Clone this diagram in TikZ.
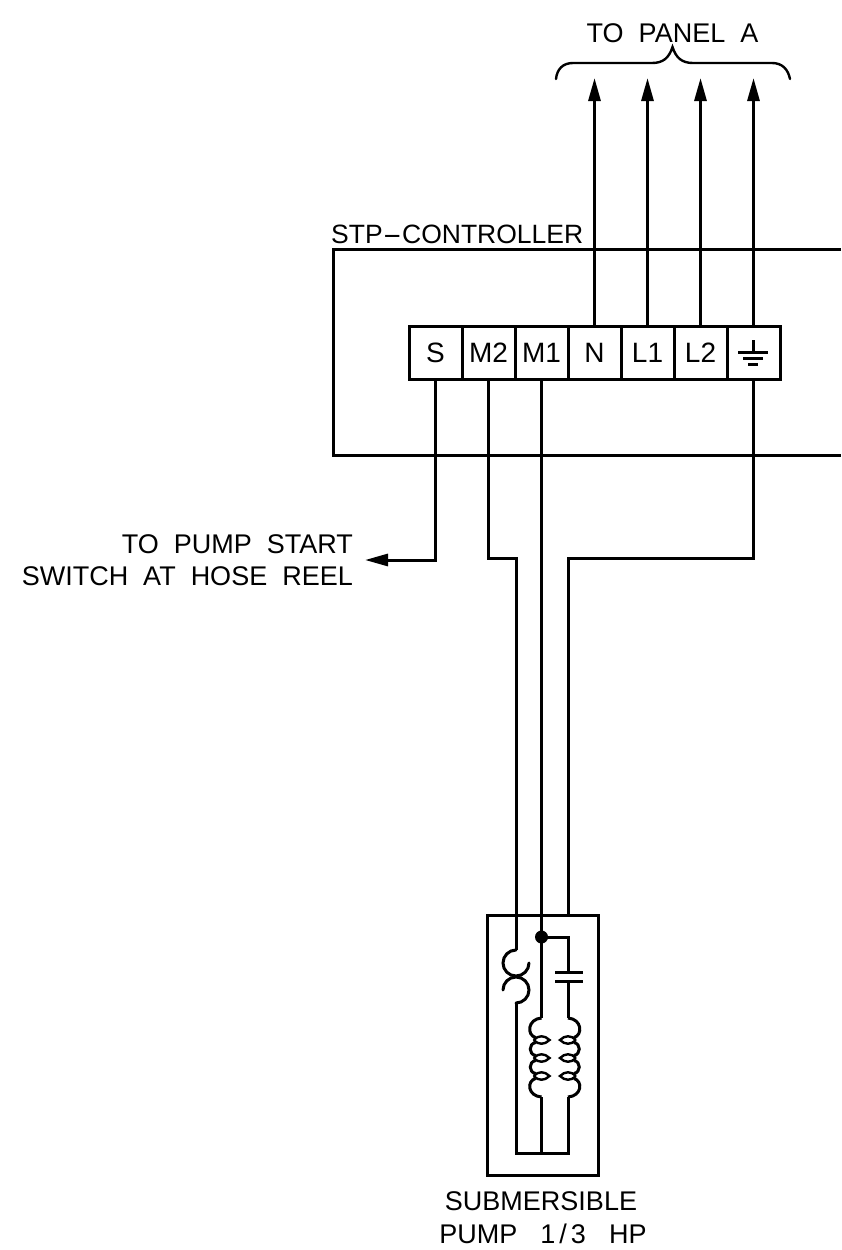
\documentclass[tikz,border=0pt]{standalone}
\usepackage{graphicx}
\usepackage{fontspec}
\setmainfont[WordSpace=2]{Liberation Sans}
\usetikzlibrary{arrows.meta}
\tikzset{
  wire/.style={line width=3pt,black,line join=miter},
  tip/.style={wire,-{Triangle[length=23pt,width=12pt]}},
  term/.style={draw,line width=3pt,minimum width=53pt,minimum height=53pt,inner sep=0pt,font=\fontsize{28}{30}\selectfont},
  lbl/.style={inner sep=0pt,font=\fontsize{27}{30}\selectfont}
}
\begin{document}
\begin{tikzpicture}[x=1pt,y=-1pt]
\useasboundingbox[fill=white] (0,0) rectangle (841,1250);
% controller box
\draw[wire] (841,249) -- (333,249) -- (333,455) -- (841,455);
\node[lbl,anchor=base west,font=\fontsize{26.5}{30}\selectfont] (ctl) at (331,243) {STP\scalebox{2.2}[1]{-}CONTROLLER};
% terminals
\node[term,fill=white] (tS) at (435.5,352.5) {S};
\node[term,fill=white] (tM2) at (488.5,352.5) {M2};
\node[term,fill=white] (tM1) at (541.5,352.5) {M1};
\node[term,fill=white] (tN) at (594.5,352.5) {N};
\node[term,fill=white] (tL1) at (647.5,352.5) {L1};
\node[term,fill=white] (tL2) at (700.5,352.5) {L2};
\node[term,fill=white] (tG) at (753.5,352.5) {};
\draw[wire] (753.5,340) -- (753.5,352);
\draw[wire] (738,352) -- (768,352);
\draw[wire] (743,358) -- (763,358);
\draw[wire] (748,364) -- (758,364);
% arrows to panel
\coordinate (pN) at (594.5,78);
\coordinate (pL1) at (647.5,78);
\coordinate (pL2) at (700.5,78);
\coordinate (pG) at (753.5,78);
\draw[tip] (tN.north) -- (pN);
\draw[tip] (tL1.north) -- (pL1);
\draw[tip] (tL2.north) -- (pL2);
\draw[tip] (tG.north) -- (pG);
% brace
\draw[line width=2.4pt,line cap=round] (556,79) .. controls (557,69) and (563,63) .. (573,63) -- (652,63) .. controls (663,63) and (669,58) .. (672.5,47) .. controls (676,58) and (682,63) .. (693,63) -- (772,63) .. controls (782,63) and (788,69) .. (790,79);
\node[lbl,anchor=base] (panel) at (672.5,42) {TO PANEL A};
% pump box
\node[draw,line width=3pt,minimum width=111pt,minimum height=260pt,inner sep=0pt] (pump) at (542.5,1045) {};
% wires to pump
\coordinate (sw) at (365,560);
\draw[tip] (tS.south) |- (sw);
\coordinate (m1j) at (541.5,937);
\coordinate (g1) at (753.5,558);
\coordinate (g2) at (568,558);
\coordinate (m21) at (488.5,558);
\coordinate (m22) at (516,558);
\coordinate (ol) at (516,950);
\draw[wire] (tM2.south) -- (m21) -- (m22) -- (ol);
\draw[wire] (tM1.south) -- (m1j);
\draw[wire] (tG.south) -- (g1) -- (g2) -- (g2 |- pump.north);
\fill (m1j) circle[radius=6.5];
% overload
\draw[wire,line cap=round] (516,950) .. controls (508.85,950) and (503,955.85) .. (503,963) .. controls (503,970.15) and (508.85,976) .. (516,976) .. controls (523.15,976) and (529,970.15) .. (529,963);
\draw[wire,line cap=round] (516,1003) .. controls (523.15,1003) and (529,997.15) .. (529,990) .. controls (529,982.85) and (523.15,977) .. (516,977) .. controls (508.85,977) and (503,982.85) .. (503,990);
% capacitor
\draw[wire] (m1j) -- (568,937) -- (568,972);
\draw[wire] (555,972) -- (583,972);
\draw[wire] (555,981) -- (583,981);
\draw[wire] (568,981) -- (568,1018);
% coils
\draw[wire] (m1j) -- (541.5,1018);
\foreach \sx/\sc in {541.5/1,568/-1}{
\begin{scope}[shift={(\sx,0)},xscale=\sc]
\draw[wire] (0,1018) .. controls (-14,1019) and (-15,1035) .. (-6,1037.5);
\draw[wire] (-6,1042.5) .. controls (-13,1044) and (-13,1054) .. (-6,1055.5);
\draw[wire] (-6,1060.5) .. controls (-13,1062) and (-13,1072) .. (-6,1073.5);
\draw[wire] (-6,1078.5) .. controls (-15,1081) and (-14,1096) .. (0,1097);
\foreach \yy in {1040,1058,1076}{
\draw[line width=2.4pt] (-8,\yy) .. controls (-3,\yy-5) and (3,\yy-5) .. (8,\yy) .. controls (3,\yy+5) and (-3,\yy+5) .. (-8,\yy);
}
\end{scope}
}
% bottom bus
\draw[wire] (516,1003) -- (516,1153) -- (568,1153) -- (568,1097);
\draw[wire] (541.5,1097) -- (541.5,1153);
% labels
\node[lbl,anchor=base east] (l1) at (353,553) {TO PUMP START};
\node[lbl,anchor=base east] (l2) at (353,585) {SWITCH AT HOSE REEL};
\node[lbl,anchor=base] (l3) at (541,1210) {SUBMERSIBLE};
\node[lbl,anchor=base] (l4) at (543,1243) {PUMP\hspace{8pt} 1\kern4pt/\kern4pt3\hspace{8pt} HP};
\end{tikzpicture}
\end{document}
